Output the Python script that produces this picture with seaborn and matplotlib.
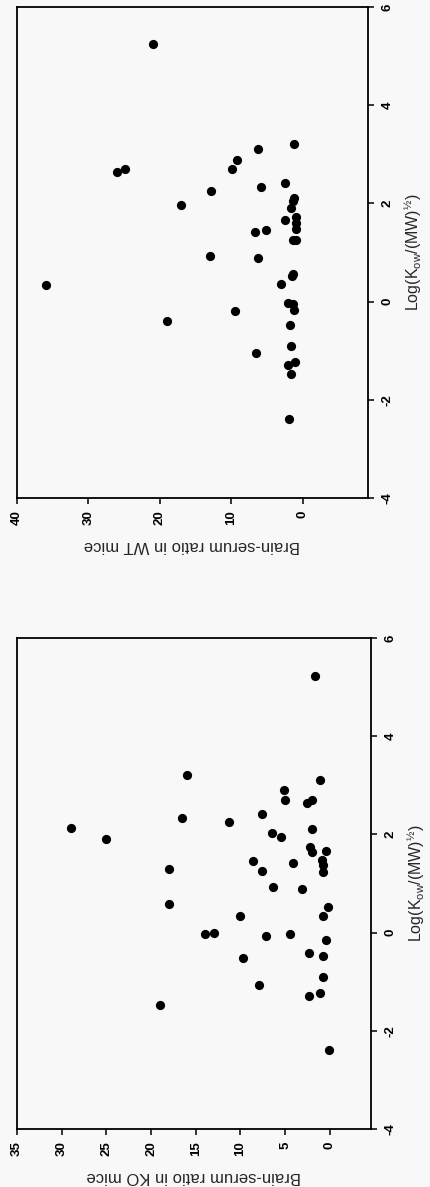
import numpy as np
import pandas as pd
import matplotlib
matplotlib.use("Agg")
import matplotlib.pyplot as plt
import seaborn as sns

wt_ratio = [21.0, 36.0, 26.0, 24.9, 17.0, 12.8, 13.0, 9.9, 9.2, 6.25,
            5.9, 6.7, 5.2, 6.3, 2.5, 2.5, 1.26, 1.2, 1.4, 1.6,
            1.0, 0.9, 0.9, 1.4, 0.9, 1.44, 1.5, 3.1, 19.0, 9.5,
            6.6, 2.1, 1.4, 1.2, 1.8, 1.7, 1.1, 2.05, 1.6, 1.9]
wt_log = [5.24, 0.34, 2.64, 2.70, 1.96, 2.25, 0.92, 2.69, 2.88, 3.11,
          2.33, 1.41, 1.45, 0.89, 2.42, 1.66, 3.21, 2.11, 2.04, 1.91,
          1.73, 1.60, 1.47, 1.26, 1.26, 0.57, 0.52, 0.35, -0.40, -0.19,
          -1.05, -0.04, -0.06, -0.17, -0.48, -0.90, -1.23, -1.30, -1.48, -2.39]

ko_ratio = [1.68, 16.0, 1.04, 5.1, 5.0, 2.5, 2.0, 7.6, 16.5, 11.3,
            29.0, 2.0, 25.0, 6.5, 5.5, 2.2, 2.0, 0.4, 0.86, 0.8,
            0.74, 8.6, 7.6, 4.1, 18.0, 6.4, 3.1, 18.0, 0.2, 10.0,
            0.74, 14.0, 13.0, 7.1, 4.5, 0.37, 2.3, 0.74, 9.7, 0.74,
            7.9, 1.1, 2.3, 19.0, 0.1]
ko_log = [5.23, 3.21, 3.10, 2.90, 2.69, 2.63, 2.69, 2.41, 2.33, 2.25,
          2.12, 2.10, 1.91, 2.03, 1.95, 1.74, 1.65, 1.66, 1.48, 1.38,
          1.24, 1.46, 1.25, 1.42, 1.30, 0.92, 0.88, 0.58, 0.53, 0.34,
          0.34, -0.04, -0.01, -0.07, -0.03, -0.16, -0.41, -0.48, -0.52, -0.91,
          -1.06, -1.23, -1.30, -1.47, -2.40]

log_ticks = [-4, -2, 0, 2, 4, 6]
wt_ticks = [0, 10, 20, 30, 40]
ko_ticks = [0, 5, 10, 15, 20, 25, 30, 35]

sns.set_style("ticks")
plt.rcParams["font.family"] = ["Liberation Sans", "DejaVu Sans"]
plt.rcParams["mathtext.fontset"] = "custom"
plt.rcParams["mathtext.rm"] = "Liberation Sans"
plt.rcParams["mathtext.it"] = "Liberation Sans:italic"
plt.rcParams["axes.unicode_minus"] = False

bg = "#f8f8f8"
fig = plt.figure(figsize=(4.3, 11.87), dpi=100, facecolor=bg)

log_label = r"Log(K$_{\mathregular{ow}}$/(MW)$^{\mathregular{½}}$)"

panels = [
    ([0.0395, 0.5805, 0.816, 0.4137], wt_ratio, wt_log, (40, -9.1), wt_ticks,
     "Brain-serum ratio in WT mice"),
    ([0.0395, 0.0489, 0.823, 0.4137], ko_ratio, ko_log, (35, -4.6), ko_ticks,
     "Brain-serum ratio in KO mice"),
]

for rect, ratio, logk, xlim, xticks, xlabel in panels:
    ax = fig.add_axes(rect)
    ax.set_facecolor(bg)
    df = pd.DataFrame({"ratio": ratio, "logk": logk})
    sns.scatterplot(data=df, x="ratio", y="logk", ax=ax, color="black",
                    s=44, linewidth=0)
    ax.set_xlim(*xlim)
    ax.set_ylim(-4, 6)
    ax.set_xticks(xticks)
    ax.set_yticks(log_ticks)
    ax.yaxis.tick_right()
    ax.yaxis.set_label_position("right")
    for sp in ax.spines.values():
        sp.set_visible(True)
        sp.set_linewidth(1.3)
        sp.set_color("black")
    ax.tick_params(axis="both", direction="out", length=4, width=1.1,
                   colors="black", labelsize=9.5)
    ax.tick_params(axis="x", pad=5)
    ax.tick_params(axis="y", pad=6)
    for lab in ax.get_xticklabels():
        lab.set_rotation(90)
        lab.set_fontweight("bold")
    for lab in ax.get_yticklabels():
        lab.set_rotation(90)
        lab.set_fontweight("bold")
        lab.set_va("center")
    ax.set_xlabel(xlabel, rotation=180, fontsize=12, labelpad=9)
    ax.set_ylabel(log_label, rotation=90, fontsize=11.5, labelpad=6)

plt.savefig("out.png", dpi=100, facecolor=bg)
